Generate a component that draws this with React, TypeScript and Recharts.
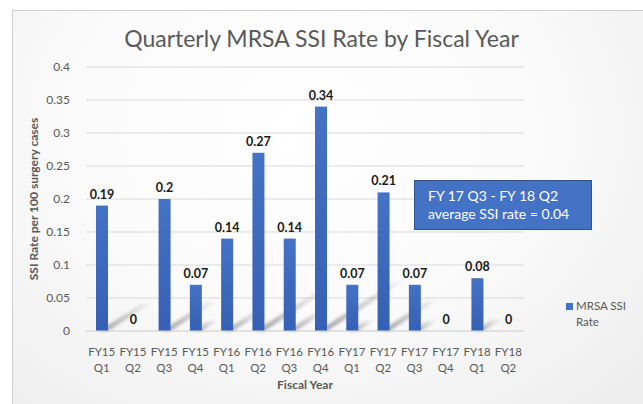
import { BarChart, Bar, XAxis, YAxis, CartesianGrid, LabelList } from "recharts";

const quarters = [
  "FY15 Q1", "FY15 Q2", "FY15 Q3", "FY15 Q4",
  "FY16 Q1", "FY16 Q2", "FY16 Q3", "FY16 Q4",
  "FY17 Q1", "FY17 Q2", "FY17 Q3", "FY17 Q4",
  "FY18 Q1", "FY18 Q2",
];
const ssiRates = [0.19, 0, 0.2, 0.07, 0.14, 0.27, 0.14, 0.34, 0.07, 0.21, 0.07, 0, 0.08, 0];
const yTicks = [0, 0.05, 0.1, 0.15, 0.2, 0.25, 0.3, 0.35, 0.4];

const data = quarters.map((q, i) => ({ quarter: q, rate: ssiRates[i] }));

const FONT = "Lato, 'Open Sans', sans-serif";
const GRAY = "#595959";

// two-line category tick, "FY15 Q1" -> FY15 / Q1
const QuarterTick = (props: any) => {
  const { x, y, payload } = props;
  const [fy, q] = String(payload.value).split(" ");
  return (
    <text x={x} y={y} textAnchor="middle" fill={GRAY} fontSize={11.5} fontFamily={FONT}>
      <tspan x={x} dy={17}>{fy}</tspan>
      <tspan x={x} dy={16}>{q}</tspan>
    </text>
  );
};

// bar with the faint excel style perspective shadow behind it
const ShadowBar = (props: any) => {
  const { x, y, width, height } = props;
  const base = y + height;
  const dx = height * 0.34;
  const dy = height * 0.22;
  const right = x + width;
  return (
    <g>
      {height > 0 && (
        <polygon
          points={`${x + 3},${base} ${right},${base} ${right + dx},${base - dy} ${right + dx - width + 3},${base - dy}`}
          fill="url(#shadowFade)"
          filter="url(#softShadow)"
        />
      )}
      <rect x={x} y={y} width={width} height={height} fill="url(#barFill)" />
    </g>
  );
};

export default function App() {
  return (
    <div style={{ position: "absolute", left: 0, top: 0, width: 643, height: 404, background: "#fff", overflow: "hidden" }}>
      <div
        style={{
          position: "absolute",
          left: 12,
          top: 10,
          width: 640,
          height: 400,
          borderLeft: "1px solid #d0d0d0",
          borderTop: "1px solid #d0d0d0",
          background: "radial-gradient(ellipse at 45% 30%, #ffffff 0%, #fbfbfb 45%, #ececec 100%)",
        }}
      />
      <div
        style={{
          position: "absolute",
          left: 0,
          width: 643,
          top: 24,
          textAlign: "center",
          fontFamily: FONT,
          fontSize: 23,
          color: GRAY,
        }}
      >
        Quarterly MRSA SSI Rate by Fiscal Year
      </div>
      <div style={{ position: "absolute", left: 0, top: 0 }}>
        <BarChart width={643} height={404} data={data} margin={{ top: 67, right: 119, left: 0, bottom: 0 }}>
          <defs>
            <linearGradient id="barFill" x1="0" y1="0" x2="0" y2="1">
              <stop offset="0%" stopColor="#4472c4" />
              <stop offset="100%" stopColor="#3660b3" />
            </linearGradient>
            <linearGradient id="shadowFade" x1="0" y1="1" x2="1" y2="0">
              <stop offset="0%" stopColor="#000" stopOpacity={0.35} />
              <stop offset="100%" stopColor="#000" stopOpacity={0.02} />
            </linearGradient>
            <filter id="softShadow" x="-20%" y="-20%" width="140%" height="140%">
              <feGaussianBlur stdDeviation="1.6" />
            </filter>
          </defs>
          <CartesianGrid vertical={false} stroke="#d9d9d9" />
          <XAxis
            dataKey="quarter"
            height={73}
            interval={0}
            tick={<QuarterTick />}
            tickLine={false}
            axisLine={{ stroke: "#d9d9d9" }}
            label={{
              value: "Fiscal Year",
              position: "insideBottom",
              offset: 15,
              fill: GRAY,
              fontSize: 12,
              fontWeight: 700,
              fontFamily: FONT,
            }}
          />
          <YAxis
            width={86}
            domain={[0, 0.4]}
            ticks={yTicks}
            tickLine={false}
            axisLine={false}
            tickMargin={10}
            tick={{ fill: GRAY, fontSize: 12, fontFamily: FONT }}
            label={{
              value: "SSI Rate per 100 surgery cases",
              angle: -90,
              position: "insideLeft",
              offset: 34,
              style: { textAnchor: "middle" },
              fill: GRAY,
              fontSize: 12,
              fontWeight: 700,
              fontFamily: FONT,
            }}
          />
          <Bar dataKey="rate" barSize={12} shape={<ShadowBar />} isAnimationActive={false}>
            <LabelList
              dataKey="rate"
              position="top"
              offset={7}
              fill="#1a1a1a"
              fontSize={12.5}
              fontWeight={700}
              fontFamily={FONT}
            />
          </Bar>
        </BarChart>
      </div>
      <div
        style={{
          position: "absolute",
          left: 414,
          top: 180,
          width: 178,
          height: 50,
          background: "#4472c4",
          border: "1px solid #2f528f",
          color: "#fff",
          fontFamily: FONT,
          fontSize: 14,
          lineHeight: "18px",
          padding: "6px 0 0 13px",
          boxSizing: "border-box",
        }}
      >
        FY 17 Q3 - FY 18 Q2
        <br />
        average SSI rate = 0.04
      </div>
      <div
        style={{
          position: "absolute",
          left: 566,
          top: 298,
          fontFamily: FONT,
          fontSize: 11.5,
          color: GRAY,
          lineHeight: "16px",
        }}
      >
        <div style={{ display: "flex", alignItems: "center" }}>
          <span style={{ display: "inline-block", width: 7, height: 7, background: "#4472c4", marginRight: 3 }} />
          MRSA SSI
        </div>
        <div style={{ paddingLeft: 10 }}>Rate</div>
      </div>
    </div>
  );
}
